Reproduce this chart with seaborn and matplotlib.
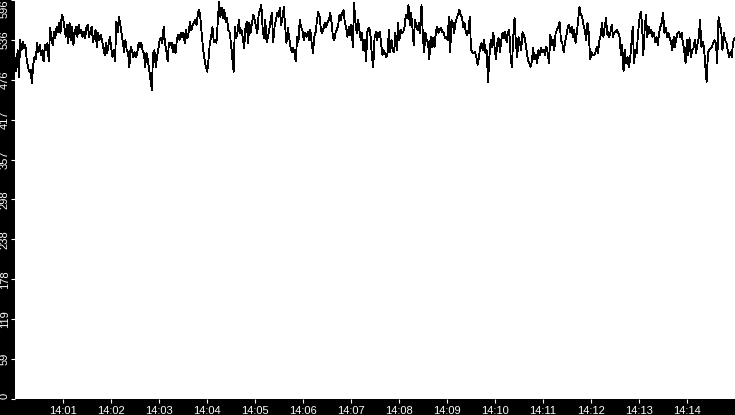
import numpy as np
import pandas as pd
import matplotlib
matplotlib.use("Agg")
import matplotlib.pyplot as plt
import matplotlib.dates as mdates
import seaborn as sns

# ---- data ----
seg1 = [510, 489, 521, 481, 536, 521, 533, 524, 529, 507, 496, 489, 492, 472, 499, 511, 507, 532, 518, 529,
        514, 521, 504, 529, 521, 532, 504, 554, 541, 529, 548, 539, 556, 548, 562, 547, 574, 569, 556, 541,
        559, 532, 562, 536, 556, 529, 547, 556, 541, 559, 547, 551, 541, 548, 539, 556, 559, 541, 548, 556,
        533, 541, 551, 526, 547, 536, 544, 536, 524, 514, 532, 517, 529, 541, 526, 511, 521, 504, 563, 548,
        571, 559, 547, 532, 518, 536, 521, 518, 496]
seg2 = [526, 521, 511, 518, 510, 517, 532, 526, 532, 521, 517, 496, 517, 507, 492, 477, 462, 517, 521, 496,
        511, 524, 536, 539, 532, 556, 532, 521, 504, 532, 529, 532, 518, 529, 517, 536, 544, 536, 547, 541,
        547, 532, 551, 539, 548, 563, 551, 559, 562, 566, 559, 577, 581, 566, 541, 521, 507, 496, 489, 507,
        532, 541, 556, 533, 536, 532, 562, 593, 571, 584, 569, 581, 563, 569, 551, 548, 532, 510, 489, 556,
        539, 548, 566, 547, 551, 539, 524, 554, 563, 532, 562]
seg3 = [547, 562, 574, 566, 556, 547, 574, 581, 589, 554, 539, 566, 533, 541, 551, 566, 577, 533, 556, 566,
        577, 571, 584, 559, 569, 586, 556, 532, 554, 541, 526, 518, 524, 517, 504, 541, 533, 566, 556, 551,
        536, 547, 541, 548, 536, 551, 532, 517, 541, 548, 566, 578, 571, 551, 547, 554, 562, 556, 563, 566,
        577, 563, 541, 536, 547, 551, 559, 574, 566, 577, 581, 563, 554, 541, 556, 544, 559, 526, 592, 562,
        547, 566, 551, 536, 547, 521, 536, 504, 548, 554]
seg4 = [554, 541, 511, 496, 539, 548, 536, 547, 548, 532, 514, 521, 517, 510, 517, 551, 518, 536, 521, 518,
        547, 521, 562, 536, 551, 547, 548, 556, 574, 569, 589, 559, 577, 556, 529, 566, 559, 551, 562, 547,
        589, 544, 518, 547, 536, 533, 507, 541, 526, 539, 526, 548, 556, 547, 551, 554, 548, 547, 539, 541,
        536, 571, 518, 566, 562, 547, 562, 569, 574, 581, 574, 571, 556, 562, 548, 544, 551, 571, 521, 518,
        517, 518, 511, 499, 510, 526, 532, 521, 536, 517, 521, 474, 510]
seg5 = [536, 526, 547, 524, 507, 532, 539, 518, 536, 547, 539, 548, 533, 547, 551, 514, 495, 541, 569, 532,
        511, 541, 533, 521, 548, 544, 536, 521, 507, 502, 496, 504, 524, 507, 514, 502, 521, 514, 524, 518,
        521, 514, 526, 517, 502, 544, 529, 536, 521, 547, 551, 556, 563, 536, 532, 518, 532, 541, 554, 559,
        548, 556, 541, 551, 532, 547, 566, 586, 574, 571, 559, 551, 536, 562, 547, 507, 518, 514, 514, 518,
        526, 517, 536, 544, 562, 541, 556, 569, 544, 548]
seg6 = [541, 547, 559, 541, 547, 548, 551, 547, 541, 514, 529, 489, 521, 502, 511, 496, 507, 532, 556, 502,
        521, 517, 547, 566, 578, 562, 514, 551, 574, 541, 556, 547, 551, 541, 547, 533, 541, 529, 547, 556,
        562, 577, 547, 554, 541, 547, 539, 533, 521, 541, 526, 539, 547, 548, 541, 547, 532, 521, 502, 536,
        514, 539, 511, 521, 524, 536, 517, 529, 539, 566, 526, 533, 526, 496, 474, 517, 521, 524, 526, 532,
        536, 532, 502, 571, 559, 551, 521, 547, 536, 532, 521, 510, 518, 511, 532, 539]

# time span of each stretch of samples, in seconds after 14:00:00
seg_bounds = [(0.0, 142.9), (144.6, 293.0), (294.6, 442.1),
              (442.9, 592.9), (594.6, 742.1), (742.5, 899.2)]

y_ticks = [0, 59.6, 119.2, 178.8, 238.4, 298.0, 357.6, 417.2, 476.8, 536.4, 596.0]
y_tick_labels = ["0", "59", "119", "178", "238", "298", "357", "417", "476", "536", "596"]
x_start = "2024-01-01 14:00:00"
x_end = "2024-01-01 14:15:00"

# ---- build frame ----
base = pd.Timestamp(x_start)
frames = []
for seg, (s0, s1) in zip([seg1, seg2, seg3, seg4, seg5, seg6], seg_bounds):
    secs = np.linspace(s0, s1, len(seg))
    frames.append(pd.DataFrame({"time": base + pd.to_timedelta(secs, unit="s"),
                                "value": seg}))
df = pd.concat(frames, ignore_index=True)

# ---- plot ----
sns.set_style("white")
plt.rcParams["font.family"] = ["Liberation Sans", "DejaVu Sans"]

W, H = 735, 415
fig = plt.figure(figsize=(W / 100, H / 100), dpi=100, facecolor="black")
ax = fig.add_axes([15 / W, 16 / H, 720 / W, 399 / H], facecolor="white")

sns.lineplot(data=df, x="time", y="value", ax=ax, color="black",
             linewidth=0.6, estimator=None, sort=True, antialiased=False)

ax.set_xlim(pd.Timestamp(x_start), pd.Timestamp(x_end))
ax.set_ylim(0, 596)
ax.xaxis.set_major_locator(mdates.MinuteLocator(byminute=range(1, 15)))
ax.xaxis.set_major_formatter(mdates.DateFormatter("%H:%M"))
ax.set_yticks(y_ticks)
ax.set_yticklabels(y_tick_labels)
ax.set_xlabel("")
ax.set_ylabel("")

for sp in ax.spines.values():
    sp.set_visible(False)

ax.tick_params(axis="both", which="major", colors="white", labelcolor="white",
               length=3, width=0.8, labelsize=8, direction="out")
ax.tick_params(axis="x", pad=2.2, bottom=True)
ax.tick_params(axis="y", pad=0.8, left=True)

ylabels = ax.get_yticklabels()
for i, lab in enumerate(ylabels):
    lab.set_rotation(90)
    lab.set_verticalalignment("center")
    lab.set_horizontalalignment("right")
ylabels[0].set_verticalalignment("bottom")
ylabels[-1].set_verticalalignment("top")

fig.savefig("out.png", dpi=100, facecolor="black")
